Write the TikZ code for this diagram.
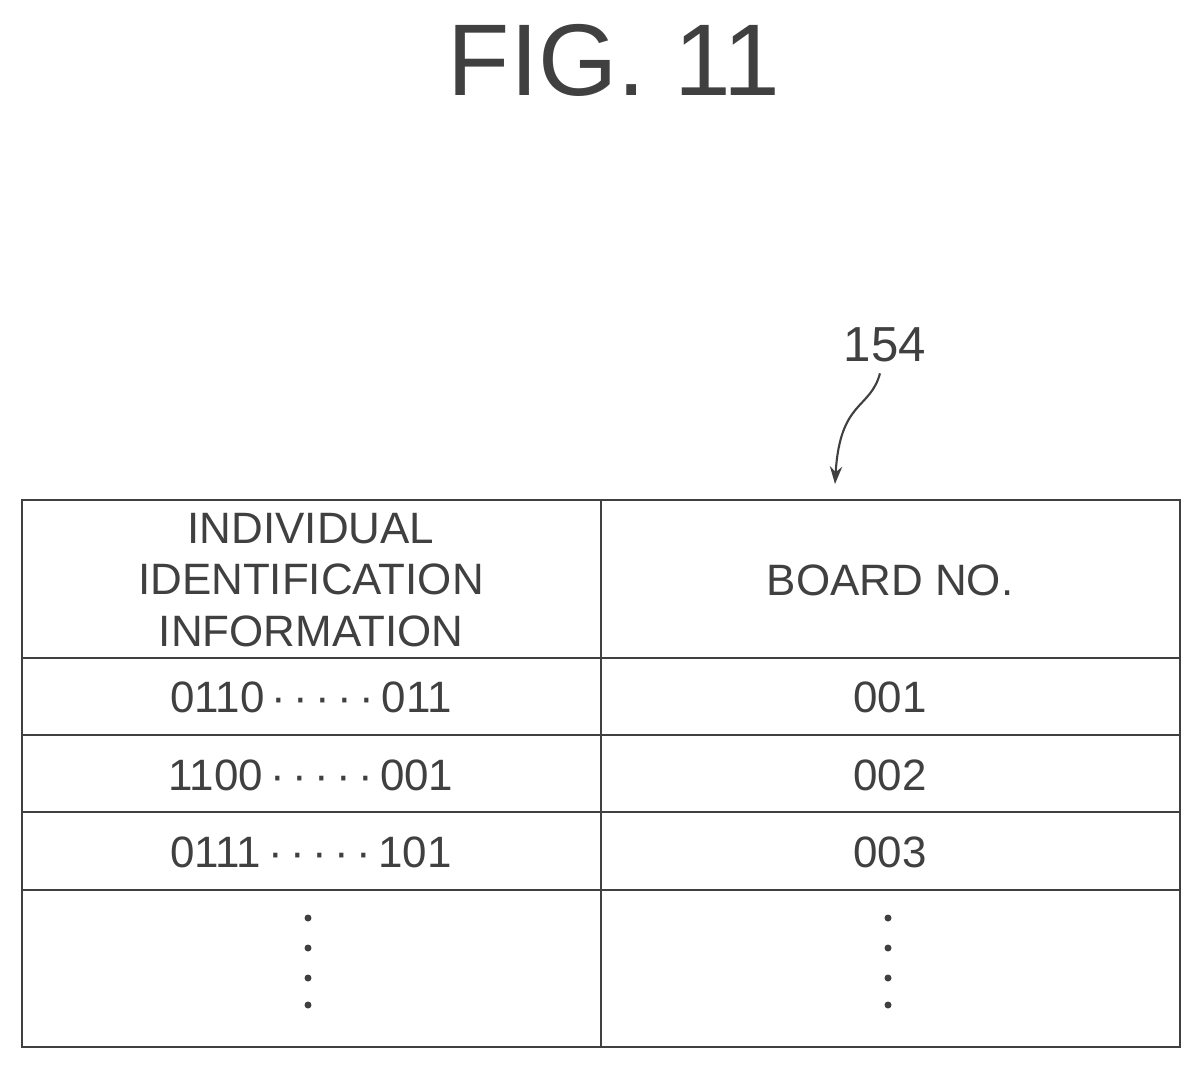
\documentclass[tikz,border=0pt]{standalone}
\usepackage{fontspec}
\setmainfont{Liberation Sans}
\usetikzlibrary{arrows.meta}
\begin{document}
\begin{tikzpicture}[x=0.02cm,y=-0.02cm,
		>=stealth,
		cell/.style={font=\fontsize{25}{29}\selectfont, align=center, text=black!75},
		grid/.style={draw=black!75, line width=1.3pt}
		]
		\useasboundingbox (0,0) rectangle (1201,1069);
		\node[font=\fontsize{58}{60}\selectfont, text=black!75] (title) at (614,60) {FIG. 11};
		\node[font=\fontsize{28}{30}\selectfont, text=black!75] (ref) at (885,345) {154};
		\coordinate (tip) at (835,484);
		
		% table frame
		\draw[grid] (22,500) rectangle (1180,1047);
		\draw[grid] (601,500) -- (601,1047);
		\foreach \y in {658,735,812,890}
			\draw[grid] (22,\y) -- (1180,\y);
		
		\node[cell, font=\fontsize{25}{23}\selectfont] (head1) at (311,580) {INDIVIDUAL\\[0.25em]IDENTIFICATION\\[0.25em]INFORMATION};
		\node[cell] (head2) at (890,580) {BOARD NO.};
		\node[cell] (id1) at (311,697) {0110\,·\,·\,·\,·\,·\,011};
		\node[cell] (no1) at (890,697) {001};
		\node[cell] (id2) at (311,775) {1100\,·\,·\,·\,·\,·\,001};
		\node[cell] (no2) at (890,775) {002};
		\node[cell] (id3) at (311,852) {0111\,·\,·\,·\,·\,·\,101};
		\node[cell] (no3) at (890,852) {003};
		
		\foreach \y in {918,948,978,1005} {
			\fill[black!75] (308,\y) circle (3.5);
			\fill[black!75] (888,\y) circle (3.5);
		}
		
		\draw[-{Stealth[length=10pt,width=7pt]},black!75,line width=1.2pt] (ref.south) ++(-5,5) .. controls (870,410) and (840,400) .. (tip);
\end{tikzpicture}
\end{document}
